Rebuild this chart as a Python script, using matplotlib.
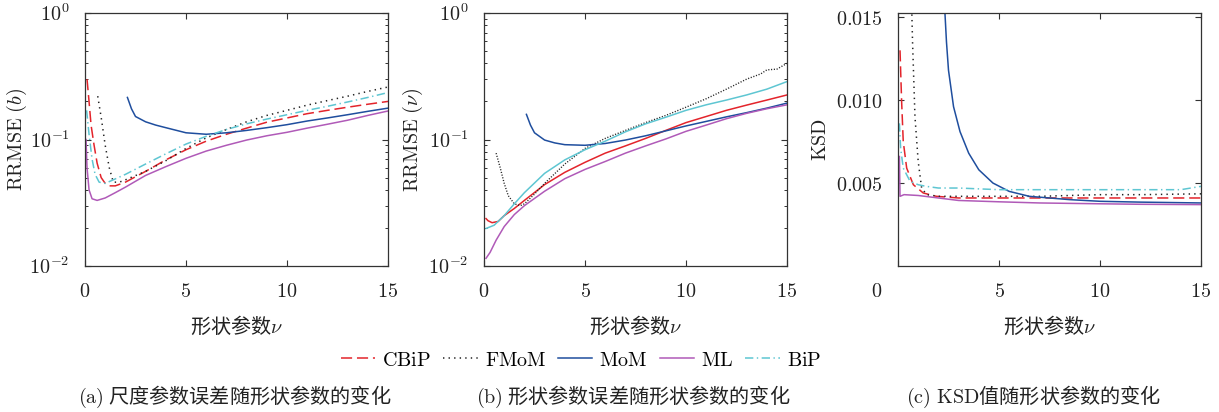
import matplotlib
matplotlib.use("Agg")
import matplotlib.pyplot as plt
import matplotlib.transforms as mtransforms
from matplotlib.ticker import NullFormatter, LogLocator

plt.rcParams['font.family'] = ['Noto Sans CJK SC', 'DejaVu Sans']
plt.rcParams['mathtext.fontset'] = 'cm'
plt.rcParams['lines.scale_dashes'] = False

# ---------------- data: panel (a) RRMSE(b) ----------------
a_cbip_x = [0.1, 0.2, 0.3, 0.45, 0.6, 0.8, 1.0, 1.2, 1.5, 2, 3, 4, 5, 6, 7, 8, 9, 10, 11, 12, 13, 14, 15]
a_cbip_y = [0.30, 0.20, 0.13, 0.09, 0.065, 0.05, 0.045, 0.043, 0.043, 0.046, 0.056, 0.069, 0.083, 0.097,
            0.11, 0.123, 0.137, 0.148, 0.16, 0.17, 0.18, 0.19, 0.2]
a_fmom_x = [0.63, 0.8, 1.0, 1.2, 1.4, 1.7, 2, 3, 4, 5, 6, 7, 8, 9, 10, 11, 12, 13, 14, 15]
a_fmom_y = [0.22, 0.15, 0.09, 0.06, 0.046, 0.046, 0.048, 0.056, 0.068, 0.085, 0.103, 0.12, 0.138,
            0.155, 0.17, 0.187, 0.203, 0.22, 0.24, 0.26]
a_mom_x = [2.1, 2.3, 2.5, 3, 3.5, 4, 5, 6, 7, 8, 9, 10, 11, 12, 13, 14, 15]
a_mom_y = [0.215, 0.175, 0.152, 0.138, 0.13, 0.124, 0.113, 0.11, 0.113, 0.118, 0.124, 0.131, 0.14,
           0.148, 0.157, 0.167, 0.177]
a_ml_x = [0.05, 0.1, 0.2, 0.35, 0.6, 1.0, 1.5, 2, 3, 4, 5, 6, 7, 8, 9, 10, 11, 12, 13, 14, 15]
a_ml_y = [0.1, 0.06, 0.04, 0.034, 0.033, 0.0345, 0.038, 0.042, 0.052, 0.061, 0.071, 0.081, 0.09,
          0.099, 0.107, 0.114, 0.123, 0.132, 0.142, 0.155, 0.168]
a_bip_x = [0.08, 0.2, 0.35, 0.5, 0.7, 1.0, 1.4, 2, 3, 4, 5, 6, 7, 8, 9, 10, 11, 12, 13, 14, 15]
a_bip_y = [0.17, 0.11, 0.07, 0.053, 0.046, 0.045, 0.048, 0.053, 0.064, 0.077, 0.092, 0.106, 0.12,
           0.133, 0.145, 0.157, 0.17, 0.183, 0.198, 0.215, 0.235]

# ---------------- data: panel (b) RRMSE(nu) ----------------
b_cbip_x = [0.1, 0.2, 0.4, 0.7, 1, 1.5, 2, 3, 4, 5, 6, 7, 8, 9, 10, 11, 12, 13, 14, 15]
b_cbip_y = [0.0237, 0.0228, 0.022, 0.0225, 0.025, 0.0285, 0.033, 0.044, 0.055, 0.066, 0.078, 0.089,
            0.102, 0.118, 0.136, 0.152, 0.17, 0.187, 0.205, 0.225]
b_fmom_x = [0.6, 0.8, 1.0, 1.2, 1.5, 1.8, 2.0, 2.5, 3, 4, 5, 6, 7, 8, 9, 10, 11, 12, 13, 13.7, 14, 14.5, 15]
b_fmom_y = [0.078, 0.06, 0.045, 0.036, 0.031, 0.030, 0.031, 0.037, 0.045, 0.064, 0.085, 0.102, 0.118,
            0.136, 0.155, 0.18, 0.21, 0.25, 0.30, 0.33, 0.355, 0.36, 0.40]
b_mom_x = [2.1, 2.3, 2.5, 3, 3.5, 4, 5, 6, 7, 8, 9, 10, 11, 12, 13, 14, 15]
b_mom_y = [0.158, 0.13, 0.113, 0.099, 0.094, 0.091, 0.09, 0.093, 0.099, 0.107, 0.117, 0.128, 0.139,
           0.151, 0.163, 0.177, 0.194]
b_ml_x = [0.1, 0.3, 0.6, 1, 1.5, 2, 3, 4, 5, 6, 7, 8, 9, 10, 11, 12, 13, 14, 15]
b_ml_y = [0.0115, 0.0128, 0.016, 0.0205, 0.0255, 0.03, 0.039, 0.049, 0.058, 0.067, 0.078, 0.089,
          0.101, 0.116, 0.13, 0.146, 0.161, 0.175, 0.188]
b_bip_x = [0.1, 0.5, 1, 1.5, 2, 3, 4, 5, 6, 7, 8, 9, 10, 11, 12, 13, 14, 15]
b_bip_y = [0.0198, 0.021, 0.025, 0.031, 0.038, 0.054, 0.069, 0.083, 0.097, 0.115, 0.133, 0.15, 0.17,
           0.188, 0.205, 0.225, 0.25, 0.287]

# ---------------- data: panel (c) KSD ----------------
c_cbip_x = [0.1, 0.18, 0.26, 0.43, 0.76, 1.25, 1.9, 3, 5, 7, 10, 12, 15]
c_cbip_y = [0.0130, 0.0099, 0.0075, 0.0059, 0.0049, 0.0044, 0.0042, 0.0041, 0.0041, 0.0041, 0.0041,
            0.0041, 0.0041]
c_fmom_x = [0.68, 0.72, 0.76, 0.84, 1.0, 1.17, 1.42, 2, 3, 5, 7, 10, 12, 15]
c_fmom_y = [0.0155, 0.0135, 0.012, 0.009, 0.0063, 0.0047, 0.0043, 0.0042, 0.0042, 0.0042, 0.0042,
            0.0043, 0.0043, 0.00435]
c_mom_x = [2.3, 2.4, 2.5, 2.75, 3.07, 3.5, 4.0, 4.7, 5.5, 6.5, 7.5, 8.5, 10, 12, 15]
c_mom_y = [0.0158, 0.0135, 0.0118, 0.0096, 0.0081, 0.0068, 0.0058, 0.0050, 0.0045, 0.0042, 0.0041,
           0.0040, 0.0039, 0.00385, 0.0038]
c_ml_x = [0.07, 0.1, 0.3, 1, 2, 3, 5, 7, 10, 12, 15]
c_ml_y = [0.0066, 0.0042, 0.0043, 0.00425, 0.0041, 0.00395, 0.00387, 0.0038, 0.00375, 0.00372, 0.0037]
c_bip_x = [0.07, 0.13, 0.26, 0.6, 1.0, 1.4, 2, 3, 5, 7, 10, 12, 14, 14.5, 15]
c_bip_y = [0.0086, 0.0071, 0.0059, 0.0051, 0.0049, 0.0048, 0.0047, 0.0047, 0.0046, 0.0046, 0.0046,
           0.0046, 0.0046, 0.0047, 0.0048]

method_names = ['CBiP', 'FMoM', 'MoM', 'ML', 'BiP']
x_ticks = [0, 5, 10, 15]
x_ticklabels = ['$0$', '$5$', '$10$', '$15$']
log_ticks = [1e-2, 1e-1, 1e0]
log_ticklabels = ['$10^{-2}$', '$10^{-1}$', '$10^{0}$']
ksd_ticks = [0.005, 0.010, 0.015]
ksd_ticklabels = ['$0.005$', '$0.010$', '$0.015$']
xlabel_text = '形状参数$\\nu$'
captions = ['$\\mathrm{(a)}$ 尺度参数误差随形状参数的变化',
            '$\\mathrm{(b)}$ 形状参数误差随形状参数的变化',
            '$\\mathrm{(c)\\ KSD}$值随形状参数的变化']

# ---------------- styles ----------------
RED = '#e3242b'
BLACK = '#222222'
BLUE = '#1f4e9e'
MAG = '#b05ab8'
CYAN = '#5ec6d2'
LW = 1.1
FS = 14.5

fig = plt.figure(figsize=(12.19, 4.12), dpi=100)
W, H = 1219, 412
def axrect(l, r, t, b):
    return [l / W, 1 - b / H, (r - l) / W, (b - t) / H]

ax_a = fig.add_axes(axrect(85, 388, 13, 266))
ax_b = fig.add_axes(axrect(484, 787, 13, 266))
ax_c = fig.add_axes(axrect(898, 1201, 13, 266))

def style_axis(ax):
    for s in ax.spines.values():
        s.set_color('#333333')
        s.set_linewidth(0.9)
    ax.tick_params(which='both', direction='in', top=True, right=True, colors='#333333',
                   labelcolor='#222222', labelsize=FS, pad=11)
    ax.tick_params(which='major', length=4.5, width=0.8)
    ax.tick_params(which='minor', length=2.5, width=0.7)
    ax.set_xlim(0, 15)
    ax.set_xticks(x_ticks)
    ax.set_xticklabels(x_ticklabels)
    ax.set_xlabel(xlabel_text, fontsize=FS, labelpad=9, color='#222222')

# panel (a)
la1, = ax_a.plot(a_cbip_x, a_cbip_y, color=RED, lw=LW, dashes=(8, 3.5))
la2, = ax_a.plot(a_fmom_x, a_fmom_y, color=BLACK, lw=LW, dashes=(1, 3))
la3, = ax_a.plot(a_mom_x, a_mom_y, color=BLUE, lw=LW)
la4, = ax_a.plot(a_ml_x, a_ml_y, color=MAG, lw=LW)
la5, = ax_a.plot(a_bip_x, a_bip_y, color=CYAN, lw=LW, dashes=(6, 2.5, 1, 2.5))

# panel (b)
ax_b.plot(b_cbip_x, b_cbip_y, color=RED, lw=LW)
ax_b.plot(b_fmom_x, b_fmom_y, color=BLACK, lw=LW * 0.9, dashes=(0.8, 1.2))
ax_b.plot(b_mom_x, b_mom_y, color=BLUE, lw=LW)
ax_b.plot(b_ml_x, b_ml_y, color=MAG, lw=LW)
ax_b.plot(b_bip_x, b_bip_y, color=CYAN, lw=LW)

for ax, lab in [(ax_a, '$\\mathrm{RRMSE}\\ (b)$'), (ax_b, '$\\mathrm{RRMSE}\\ (\\nu)$')]:
    ax.set_yscale('log')
    ax.set_ylim(1e-2, 1e0)
    style_axis(ax)
    ax.set_yticks(log_ticks)
    ax.set_yticklabels(log_ticklabels)
    ax.yaxis.set_minor_locator(LogLocator(base=10, subs=[2, 3, 4, 5, 6, 7, 8, 9]))
    ax.yaxis.set_minor_formatter(NullFormatter())
    ax.set_ylabel(lab, fontsize=FS, color='#222222')
ax_a.yaxis.set_label_coords(-0.185, 0.5)
ax_b.yaxis.set_label_coords(-0.195, 0.5)

# panel (c)
ax_c.plot(c_cbip_x, c_cbip_y, color=RED, lw=LW, dashes=(8, 3.5))
ax_c.plot(c_fmom_x, c_fmom_y, color=BLACK, lw=LW, dashes=(1, 3))
ax_c.plot(c_mom_x, c_mom_y, color=BLUE, lw=LW)
ax_c.plot(c_ml_x, c_ml_y, color=MAG, lw=LW)
ax_c.plot(c_bip_x, c_bip_y, color=CYAN, lw=LW, dashes=(6, 2.5, 1, 2.5))
ax_c.set_ylim(0, 0.01525)
style_axis(ax_c)
ax_c.set_yticks(ksd_ticks)
ax_c.set_yticklabels(ksd_ticklabels)
ax_c.set_ylabel('$\\mathrm{KSD}$', fontsize=FS, color='#222222')
ax_c.yaxis.set_label_coords(-0.22, 0.5)
# the "0" label of panel (c) sits left of the axis edge
lbl0 = ax_c.get_xticklabels()[0]
lbl0.set_transform(lbl0.get_transform() + mtransforms.ScaledTranslation(-21 / 100, 0, fig.dpi_scale_trans))

# legend
fig.legend([la1, la2, la3, la4, la5], ['$\\mathrm{%s}$' % n for n in method_names],
           loc='center', bbox_to_anchor=(581 / W, 1 - 360 / H), ncol=5, frameon=False,
           fontsize=FS, handlelength=1.7, handletextpad=0.35, columnspacing=0.6)

# captions
fig.text(235 / W, 1 - 397 / H, captions[0], ha='center', va='center', fontsize=FS, color='#222222')
fig.text(633 / W, 1 - 397 / H, captions[1], ha='center', va='center', fontsize=FS, color='#222222')
fig.text(1034 / W, 1 - 397 / H, captions[2], ha='center', va='center', fontsize=FS, color='#222222')

fig.savefig('out.png', dpi=100)
